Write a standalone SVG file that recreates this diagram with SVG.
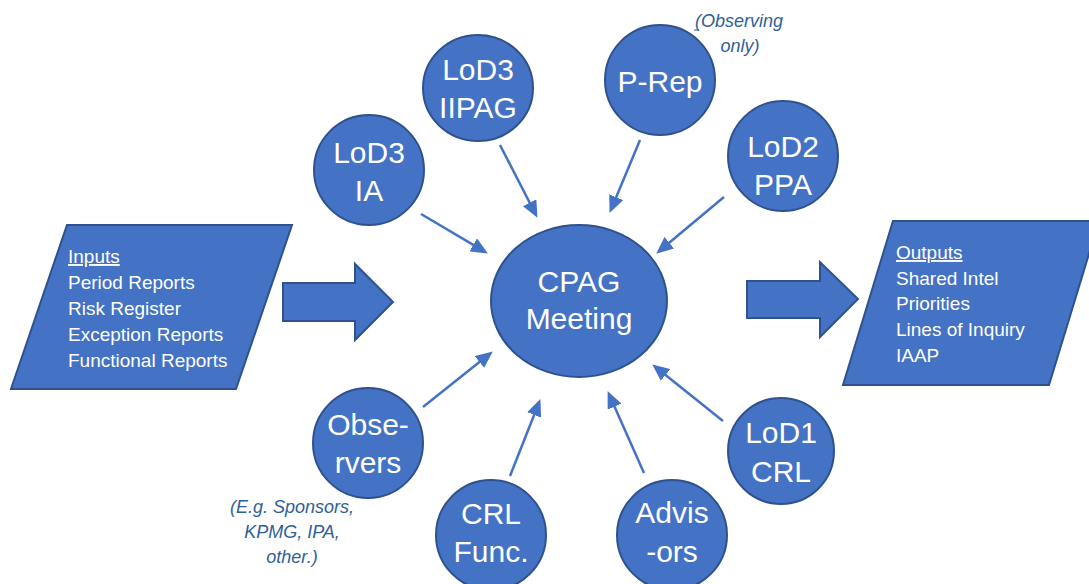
<svg xmlns="http://www.w3.org/2000/svg" width="1089" height="584" viewBox="0 0 1089 584">
  <style>
    .shape { fill: #4472c4; stroke: #2f528f; stroke-width: 2; }
    .label { font-family: "Liberation Sans", Arial, sans-serif; fill: #ffffff; }
    .big { font-size: 30px; text-anchor: middle; }
    .list { font-size: 19px; }
    .note { font-family: "Liberation Sans", Arial, sans-serif; font-style: italic; font-size: 18px; fill: #2f5f98; text-anchor: middle; }
    .conn { stroke: #4472c4; stroke-width: 2.5; fill: none; marker-end: url(#head); }
  </style>
  <defs>
    <marker id="head" markerUnits="userSpaceOnUse" markerWidth="17" markerHeight="15" refX="4" refY="7.5" orient="auto">
      <path d="M0,0 L17,7.5 L0,15 z" fill="#4472c4"/>
    </marker>
  </defs>

  <rect width="1089" height="584" fill="#ffffff"/>

  <!-- inputs parallelogram -->
  <g id="inputs">
    <polygon class="shape" points="67,225 292,225 236,389 11,389"/>
    <text class="label list" x="68" y="263" text-decoration="underline">Inputs</text>
    <text class="label list" x="68" y="289">Period Reports</text>
    <text class="label list" x="68" y="315">Risk Register</text>
    <text class="label list" x="68" y="341">Exception Reports</text>
    <text class="label list" x="68" y="367">Functional Reports</text>
  </g>

  <!-- block arrow into the meeting -->
  <g id="arrow-in">
    <polygon class="shape" points="283,283 355,283 355,264 393,302 355,340 355,321 283,321"/>
  </g>

  <!-- outputs parallelogram -->
  <g id="outputs">
    <polygon class="shape" points="893,221 1099,221 1049,385 843,385"/>
    <text class="label list" x="896" y="259" text-decoration="underline">Outputs</text>
    <text class="label list" x="896" y="285">Shared Intel</text>
    <text class="label list" x="896" y="310">Priorities</text>
    <text class="label list" x="896" y="336">Lines of Inquiry</text>
    <text class="label list" x="896" y="362">IAAP</text>
  </g>

  <!-- block arrow out of the meeting -->
  <g id="arrow-out">
    <polygon class="shape" points="747,281 820,281 820,262 858,299 820,337 820,318 747,318"/>
  </g>

  <!-- central meeting -->
  <g id="cpag">
    <ellipse class="shape" cx="579" cy="301" rx="88" ry="76"/>
    <text class="label big" x="579" y="292">CPAG</text>
    <text class="label big" x="579" y="329">Meeting</text>
  </g>

  <!-- participants -->
  <g id="lod3-ia">
    <circle class="shape" cx="369" cy="170" r="55"/>
    <text class="label big" x="369" y="163">LoD3</text>
    <text class="label big" x="369" y="201">IA</text>
  </g>

  <g id="lod3-iipag">
    <ellipse class="shape" cx="478" cy="88" rx="55" ry="53"/>
    <text class="label big" x="478" y="80">LoD3</text>
    <text class="label big" x="478" y="118">IIPAG</text>
  </g>

  <g id="p-rep">
    <circle class="shape" cx="660" cy="80" r="55"/>
    <text class="label big" x="660" y="92">P-Rep</text>
  </g>
  <text class="note" x="739" y="27">(Observing</text>
  <line x1="694" y1="30" x2="699" y2="30" stroke="#2f5f98" stroke-width="1"/>
  <text class="note" x="740" y="52">only)</text>

  <g id="lod2-ppa">
    <circle class="shape" cx="783" cy="156" r="55"/>
    <text class="label big" x="783" y="157">LoD2</text>
    <text class="label big" x="783" y="195">PPA</text>
  </g>

  <g id="observers">
    <circle class="shape" cx="368" cy="443" r="55"/>
    <text class="label big" x="368" y="435">Obse-</text>
    <text class="label big" x="368" y="473">rvers</text>
  </g>
  <text class="note" x="292" y="513">(E.g. Sponsors,</text>
  <text class="note" x="292" y="538">KPMG, IPA,</text>
  <text class="note" x="292" y="563">other.)</text>

  <g id="crl-func">
    <circle class="shape" cx="491" cy="535" r="55"/>
    <text class="label big" x="491" y="524">CRL</text>
    <text class="label big" x="491" y="562">Func.</text>
  </g>

  <g id="advisors">
    <circle class="shape" cx="672" cy="535" r="55"/>
    <text class="label big" x="672" y="523">Advis</text>
    <text class="label big" x="672" y="562">-ors</text>
  </g>

  <g id="lod1-crl">
    <circle class="shape" cx="781" cy="451" r="53"/>
    <text class="label big" x="781" y="443">LoD1</text>
    <text class="label big" x="781" y="482">CRL</text>
  </g>

  <!-- connectors into the meeting -->
  <g id="connectors">
    <line class="conn" x1="421" y1="214" x2="476.7" y2="246.9"/>
    <line class="conn" x1="500" y1="145" x2="531.5" y2="206.3"/>
    <line class="conn" x1="640" y1="140" x2="614.6" y2="200.9"/>
    <line class="conn" x1="724" y1="197" x2="666.2" y2="245.3"/>
    <line class="conn" x1="423" y1="407" x2="482.6" y2="359.5"/>
    <line class="conn" x1="510" y1="476" x2="535.6" y2="411.2"/>
    <line class="conn" x1="644" y1="473" x2="612.9" y2="403"/>
    <line class="conn" x1="723" y1="421" x2="662.4" y2="372.5"/>
  </g>
</svg>
